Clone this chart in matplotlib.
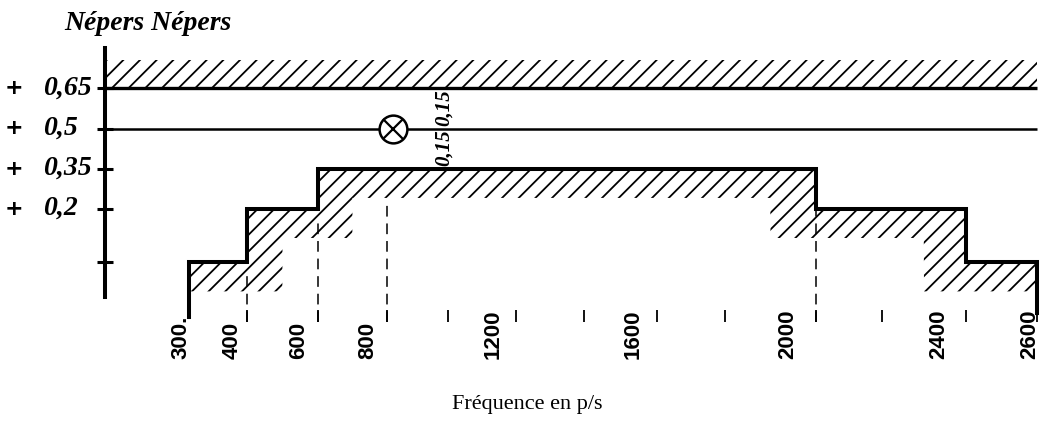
import numpy as np
import matplotlib
matplotlib.use("Agg")
import matplotlib.pyplot as plt
from matplotlib import font_manager, transforms

# ---------------- data ----------------
step_edges = [300, 400, 600, 2000, 2400, 2600]          # frequency (p/s)
step_levels = [0.0, 0.2, 0.35, 0.2, 0.0]                # Népers
nominal_level = 0.5
upper_limit = 0.65
upper_band_top = 0.757
band_depth = 0.11
marker_freq = 820
marker_level = 0.5
dashed_freqs = [400, 600, 800, 2000]
dashed_tops = [-0.04, 0.16, 0.23, 0.23]
ytick_levels = [0.65, 0.5, 0.35, 0.2, 0.0]
ytick_labels = ["0,65", "0,5", "0,35", "0,2", ""]
xtick_freqs = [400, 600, 800, 1000, 1200, 1400, 1600, 1800, 2000, 2200, 2400, 2600]
label_freqs = [300, 400, 600, 800, 1200, 1600, 2000, 2400, 2600]
label_texts = ["300.", "400", "600", "800", "1200", "1600", "2000", "2400", "2600"]

# ---------------- layout ----------------
W, H, DPI = 1046, 422, 100
# hand-drawn (non-uniform) frequency axis: frequency -> drawing position
freq_knots = np.array([0, 300, 400, 600, 800, 1000, 1200, 1400, 1600, 1800, 2000, 2200, 2400, 2600, 2800], float)
pos_knots = np.array([105, 189, 247, 318, 387, 448, 516, 584, 657, 725, 816, 882, 966, 1037, 1110], float)
label_dx_px = [-8, -15, -19, -19, -23, -24, -28, -27, -7]


def _interp_ext(v, xk, yk):
    v = np.asarray(v, float)
    shp = v.shape
    v = np.atleast_1d(v).ravel()
    out = np.interp(v, xk, yk)
    lo = v < xk[0]
    hi = v > xk[-1]
    out[lo] = yk[0] + (v[lo] - xk[0]) * (yk[1] - yk[0]) / (xk[1] - xk[0])
    out[hi] = yk[-1] + (v[hi] - xk[-1]) * (yk[-1] - yk[-2]) / (xk[-1] - xk[-2])
    return out.reshape(shp)


def fwd(f):
    return _interp_ext(f, freq_knots, pos_knots)


def inv(p):
    return _interp_ext(p, pos_knots, freq_knots)


avail = {f.name for f in font_manager.fontManager.ttflist}


def pick(*names):
    for n in names:
        if n in avail:
            return n
    return "DejaVu Sans"


serif = pick("Liberation Serif", "DejaVu Serif")
sans = pick("Liberation Sans Narrow", "Liberation Sans", "DejaVu Sans")
narrow_size = 18 if sans == "Liberation Sans Narrow" else 16

plt.rcParams["hatch.linewidth"] = 1.3

fig = plt.figure(figsize=(W / DPI, H / DPI), dpi=DPI, facecolor="white")
x0_px = 105
ax = fig.add_axes([x0_px / W, 0, (W - x0_px) / W, 1])
ax.set_facecolor("none")
ax.set_xscale("function", functions=(fwd, inv))
ax.set_xlim(0, float(inv(W)))
y0_px, px_per_np = 262, 267.0
ax.set_ylim((y0_px - H) / px_per_np, y0_px / px_per_np)

for s in ("top", "right", "bottom"):
    ax.spines[s].set_visible(False)
ax.spines["left"].set_linewidth(2.9)
ax.spines["left"].set_bounds(-0.13, 0.80)

ax.set_yticks(ytick_levels)
ax.set_yticklabels([])
ax.tick_params(axis="y", direction="inout", length=12, width=2.2, color="black")

base_y = -0.225
ax.spines["bottom"].set_position(("data", base_y))
ax.set_xticks(xtick_freqs)
ax.set_xticklabels([])
ax.xaxis.set_minor_locator(matplotlib.ticker.NullLocator())
ax.tick_params(axis="x", direction="in", length=8.6, width=1.3, color="black")

# upper hatched limit band
ax.fill_between([0, step_edges[-1]], upper_limit, upper_band_top, hatch="//",
                facecolor="none", edgecolor="black", linewidth=0)
ax.hlines(upper_limit, 0, step_edges[-1], color="black", linewidth=2.4)
ax.hlines(nominal_level, 0, step_edges[-1], color="black", linewidth=1.8)

# lower stepped template with hatched band under it
edges = np.array(step_edges, float)
levels = np.array(step_levels, float)


def step_at(f):
    idx = np.clip(np.searchsorted(edges, f, side="right") - 1, 0, len(levels) - 1)
    return levels[idx]


grid = np.linspace(edges[0], edges[-1], 4601)
upper = step_at(np.minimum(grid, edges[-1] - 1e-6))
lower = np.minimum.reduce([
    step_at(np.clip(grid - 100, edges[0], edges[-1] - 1e-6)),
    upper,
    step_at(np.clip(grid + 100, edges[0], edges[-1] - 1e-6)),
]) - band_depth
ax.fill_between(grid, lower, upper, hatch="//", facecolor="none",
                edgecolor="black", linewidth=0)

sx = np.repeat(edges, 2)
sy = np.concatenate([[base_y + 0.02], np.repeat(levels, 2), [base_y + 0.035]])
ax.plot(sx, sy, color="black", linewidth=2.9, solid_joinstyle="miter")

# dashed verticals
for f, t in zip(dashed_freqs, dashed_tops):
    ax.vlines(f, base_y, t, color="black", linewidth=1.1, linestyles=(0, (7, 4.5)))

# crossed circle marker
ax.plot([marker_freq], [marker_level], marker="o", markersize=20, markerfacecolor="white",
        markeredgecolor="black", markeredgewidth=1.8, linestyle="none", zorder=5)
ax.plot([marker_freq], [marker_level], marker="x", markersize=14, markeredgecolor="black",
        markeredgewidth=1.6, linestyle="none", zorder=6)

# 0,15 annotations
for yv in (0.58, 0.43):
    ax.text(985, yv, "0,15", rotation=90, ha="center", va="center", fontsize=15,
            fontstyle="italic", fontweight="bold", family=serif)

# x tick labels
xaxis_tr = ax.get_xaxis_transform()
for f, t, dx in zip(label_freqs, label_texts, label_dx_px):
    tr = xaxis_tr + transforms.ScaledTranslation(dx / DPI, 0, fig.dpi_scale_trans)
    ax.text(f, 1 - 359 / H, t, transform=tr, rotation=90, ha="center", va="bottom",
            fontsize=narrow_size, fontweight="bold", family=sans)

# y labels
ytr = transforms.blended_transform_factory(fig.transFigure, ax.transData)
for lv, lab in zip(ytick_levels, ytick_labels):
    if not lab:
        continue
    ax.text(14 / W, lv, "+", transform=ytr, ha="center", va="center", fontsize=16,
            fontweight="bold", family="DejaVu Sans")
    ax.text(43 / W, lv, lab, transform=ytr, ha="left", va="center", fontsize=20,
            fontstyle="italic", fontweight="bold", family=serif)

fig.text(148 / W, 1 - 24 / H, "Népers Népers", ha="center", va="center", fontsize=20,
         fontstyle="italic", fontweight="bold", family=serif)
fig.text(527 / W, 1 - 404 / H, "Fréquence en p/s", ha="center", va="center",
         fontsize=16, family=serif)

fig.savefig("out.png", dpi=DPI, facecolor="white")
